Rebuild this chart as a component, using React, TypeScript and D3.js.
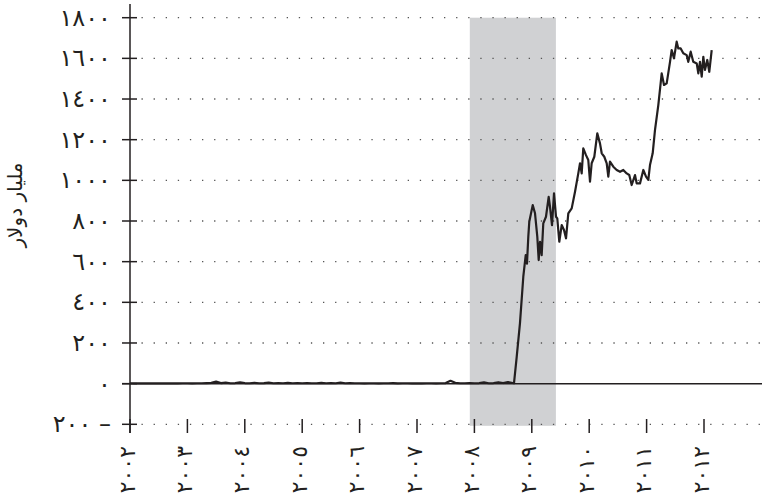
import * as d3 from "d3";

// excess reserves, billions of dollars
const flatStartYear = 2002;
const flatMonthly = [
  2, 1, 2, 1, 2, 1, 1, 2, 1, 2, 1, 2,
  2, 1, 2, 2, 3, 4, 10, 3, 5, 2, 3, 6,
  3, 2, 4, 2, 3, 5, 2, 3, 2, 4, 2, 3,
  2, 3, 2, 2, 4, 2, 3, 2, 5, 2, 3, 2,
  2, 1, 2, 2, 1, 2, 2, 3, 1, 2, 2, 1,
  2, 1, 2, 2, 1, 2, 3, 14, 4, 2, 2, 3,
  2, 3, 6, 2, 3, 7, 3, 8,
];

const crisisDates = [
  2008.69, 2008.737, 2008.794, 2008.852, 2008.894, 2008.916, 2008.939, 2008.956,
  2009.016, 2009.056, 2009.096, 2009.12, 2009.143, 2009.172, 2009.2, 2009.247,
  2009.294, 2009.317, 2009.352, 2009.387, 2009.422, 2009.444, 2009.479, 2009.521,
  2009.561, 2009.596, 2009.636, 2009.695, 2009.753, 2009.81, 2009.84, 2009.869,
  2009.897, 2009.944, 2009.984, 2010.014, 2010.043, 2010.089, 2010.141, 2010.188,
  2010.218, 2010.263, 2010.305, 2010.333, 2010.362, 2010.42, 2010.479, 2010.537,
  2010.594, 2010.653, 2010.698, 2010.74, 2010.798, 2010.827, 2010.885, 2010.943,
  2010.99, 2011.03, 2011.059, 2011.106, 2011.146, 2011.204, 2011.263, 2011.303,
  2011.35, 2011.408, 2011.437, 2011.477, 2011.524, 2011.552, 2011.594, 2011.639,
  2011.698, 2011.726, 2011.768, 2011.813, 2011.873, 2011.901, 2011.93, 2011.96,
  2011.988, 2012.017, 2012.057, 2012.092, 2012.134,
];
const crisisReserves = [
  2, 132, 298, 526, 632, 590, 722, 796,
  878, 838, 722, 608, 698, 632, 788, 821,
  919, 870, 780, 936, 821, 813, 698, 780,
  756, 715, 838, 862, 944, 1034, 1084, 1034,
  1157, 1124, 1100, 993, 1084, 1116, 1231, 1182,
  1133, 1116, 1084, 1018, 1092, 1067, 1051, 1042,
  1051, 1034, 1026, 977, 1026, 985, 985, 1051,
  1018, 1002, 1075, 1133, 1247, 1370, 1526, 1469,
  1477, 1583, 1641, 1600, 1682, 1649, 1649, 1625,
  1616, 1583, 1633, 1583, 1575, 1526, 1583, 1510,
  1608, 1543, 1592, 1534, 1641,
];

// recession (Dec 2007 - Jun 2009)
const recession = [2007.92, 2009.42];

const yTicks = [-200, 0, 200, 400, 600, 800, 1000, 1200, 1400, 1600, 1800];
const yTickLabels = ["٢٠٠ –", "٠", "٢٠٠", "٤٠٠", "٦٠٠", "٨٠٠", "١٠٠٠", "١٢٠٠", "١٤٠٠", "١٦٠٠", "١٨٠٠"];
const xTicks = [2002, 2003, 2004, 2005, 2006, 2007, 2008, 2009, 2010, 2011, 2012];
const xTickLabels = ["٢٠٠٢", "٢٠٠٣", "٢٠٠٤", "٢٠٠٥", "٢٠٠٦", "٢٠٠٧", "٢٠٠٨", "٢٠٠٩", "٢٠١٠", "٢٠١١", "٢٠١٢"];
const yTitle = "مليار دولار";

const width = 762;
const height = 504;
const ink = "#231f20";
const digitStyle = { direction: "ltr" as const, unicodeBidi: "bidi-override" as const };

export default function App() {
  const x = d3.scaleLinear().domain([2002, 2013]).range([130, 761.4]);
  const y = d3.scaleLinear().domain([-200, 1800]).range([424.3, 17.7]);

  const points: [number, number][] = [
    ...flatMonthly.map((v, i) => [flatStartYear + i / 12, v] as [number, number]),
    ...crisisDates.map((d, i) => [d, crisisReserves[i]] as [number, number]),
  ];
  const line = d3.line<[number, number]>().x(d => x(d[0])).y(d => y(d[1]));

  const axisX = x(2002);
  const gridEnd = 760;

  return (
    <svg width={width} height={height} style={{ position: "absolute", left: 0, top: 0 }}
      fontFamily="DejaVu Sans">
      <rect x={x(recession[0])} y={y(1800)} width={x(recession[1]) - x(recession[0])}
        height={y(-200) - y(1800) + 1.5} fill="#d0d1d3" />

      {/* dotted grid */}
      {yTicks.filter(t => t !== 0).map(t => (
        <line key={t} x1={axisX + 11.5} x2={gridEnd} y1={y(t)} y2={y(t)}
          stroke="#555" strokeWidth={1.3} strokeDasharray="1.3 10.8" />
      ))}

      {/* zero line */}
      <line x1={axisX - 8} x2={width} y1={y(0)} y2={y(0)} stroke={ink} strokeWidth={1.5} />

      <path d={line(points) ?? ""} fill="none" stroke={ink} strokeWidth={2.2} strokeLinejoin="round" />

      {/* y axis */}
      <line x1={axisX} x2={axisX} y1={4} y2={433} stroke={ink} strokeWidth={1.5} />
      {yTicks.map((t, i) => (
        <g key={t}>
          <line x1={axisX - 8} x2={axisX + 7} y1={y(t)} y2={y(t)} stroke={ink} strokeWidth={1.5} />
          <text x={111} y={y(t)} dominantBaseline="central" textAnchor="end" fontSize={24}
            letterSpacing={-1} fill={ink} style={digitStyle}>{yTickLabels[i]}</text>
        </g>
      ))}

      {/* x ticks on the -200 line */}
      {xTicks.map((t, i) => (
        <g key={t}>
          <line x1={x(t)} x2={x(t)} y1={419} y2={433} stroke={ink} strokeWidth={1.5} />
          <text transform={`translate(${x(t) - 3},446) rotate(-90)`} textAnchor="end"
            dominantBaseline="central" fontSize={22} letterSpacing={-3} fill={ink}
            style={digitStyle}>{xTickLabels[i]}</text>
        </g>
      ))}

      <text transform="translate(15,205) rotate(-90)" textAnchor="middle" dominantBaseline="central"
        fontSize={20} fill={ink}>{yTitle}</text>
    </svg>
  );
}
